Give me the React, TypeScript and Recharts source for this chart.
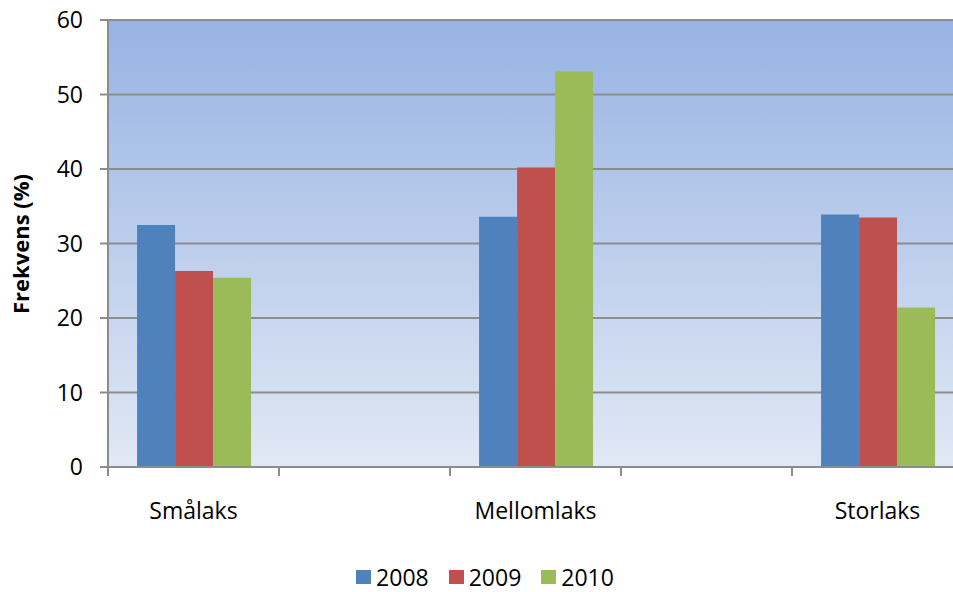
import React from 'react';
import { BarChart, Bar, XAxis, YAxis, CartesianGrid, Legend } from 'recharts';

const categories = ['Smålaks', '', 'Mellomlaks', '', 'Storlaks'];
const years = ['2008', '2009', '2010'];
const colors = ['#4f81bd', '#c0504d', '#9bbb59'];
const values2008 = [32.5, null, 33.6, null, 33.9];
const values2009 = [26.3, null, 40.2, null, 33.5];
const values2010 = [25.4, null, 53.1, null, 21.4];
const yTicks = [0, 10, 20, 30, 40, 50, 60];

const data = categories.map((name, i) => ({
  name,
  '2008': values2008[i],
  '2009': values2009[i],
  '2010': values2010[i],
}));

const FONT = '"Open Sans", "Noto Sans", sans-serif';
const GRID = '#8c8c8c';

// category label in the middle of the band, tick mark on its left edge
const CategoryTick = (props: any) => {
  const { x, y, payload } = props;
  const half = payload && payload.offset ? payload.offset : 85.5;
  return (
    <g>
      <line x1={x - half} x2={x - half} y1={y} y2={y + 9} stroke={GRID} strokeWidth={2} />
      <text x={x} y={y + 43} textAnchor="middle" dominantBaseline="central" fontSize={23} fill="#000" fontFamily={FONT}>
        {payload.value}
      </text>
    </g>
  );
};

const renderLegend = () => (
  <div style={{ display: 'flex', justifyContent: 'center', alignItems: 'center', fontFamily: FONT, fontSize: 23 }}>
    {years.map((y, i) => (
      <div key={y} style={{ display: 'flex', alignItems: 'center', marginRight: i < years.length - 1 ? 20 : 0 }}>
        <div style={{ width: 15, height: 14, backgroundColor: colors[i], marginRight: 5 }} />
        <span style={{ color: '#000' }}>{y}</span>
      </div>
    ))}
  </div>
);

const App = () => {
  return (
    <div style={{ position: 'absolute', left: 0, top: 0, width: 953, height: 592, overflow: 'hidden', background: '#fff' }}>
      <BarChart
        width={980}
        height={592}
        data={data}
        margin={{ top: 20, right: 17, bottom: 65, left: 0 }}
        barCategoryGap="17%"
        barGap={0}
      >
        <defs>
          <linearGradient id="plotBg" x1="0" y1="0" x2="0" y2="1">
            <stop offset="0%" stopColor="#97b3e3" />
            <stop offset="100%" stopColor="#e1e8f5" />
          </linearGradient>
        </defs>
        <CartesianGrid vertical={false} stroke={GRID} strokeWidth={2} fill="url(#plotBg)" fillOpacity={1} />
        <XAxis
          dataKey="name"
          height={60}
          tickSize={0}
          tickMargin={0}
          tickLine={false}
          interval={0}
          axisLine={{ stroke: GRID, strokeWidth: 2 }}
          tick={<CategoryTick />}
        />
        <YAxis
          width={108}
          domain={[0, 60]}
          ticks={yTicks}
          interval={0}
          tickSize={8}
          tickMargin={17}
          axisLine={{ stroke: GRID, strokeWidth: 2 }}
          tickLine={{ stroke: GRID, strokeWidth: 2 }}
          tick={{ fontSize: 23, fill: '#000', fontFamily: FONT }}
          label={{
            content: () => (
              <text
                x={20}
                y={244}
                transform="rotate(-90 20 244)"
                textAnchor="middle"
                dominantBaseline="central"
                fontSize={22}
                fontWeight="bold"
                fontFamily={FONT}
                fill="#000"
              >
                Frekvens (%)
              </text>
            ),
          }}
        />
        <Legend
          verticalAlign="middle"
          align="center"
          content={renderLegend}
          wrapperStyle={{ left: 0, top: 561, width: 970, height: 32 }}
        />
        {years.map((y, i) => (
          <Bar key={y} dataKey={y} fill={colors[i]} isAnimationActive={false} />
        ))}
      </BarChart>
    </div>
  );
};

export default App;
